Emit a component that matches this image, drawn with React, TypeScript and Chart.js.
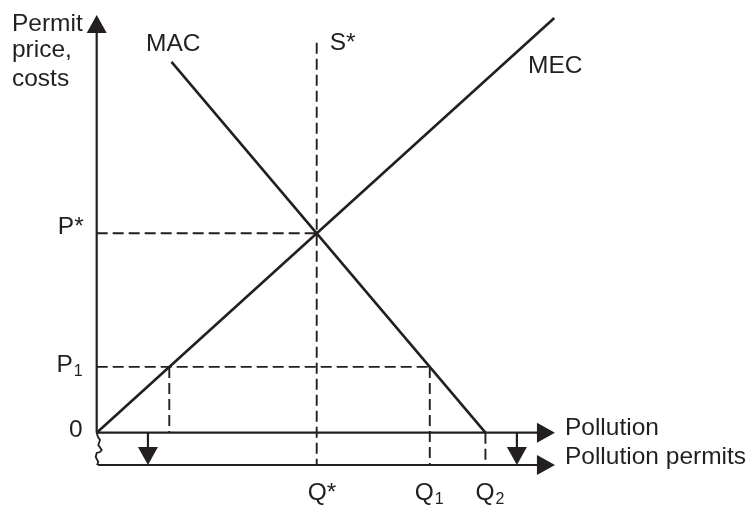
import React, { useEffect, useRef } from "react";
import { Chart, registerables } from "chart.js";

Chart.register(...registerables);

// ---- Values (economic units: Q* = 100, P* = 100) ----
const Q_STAR = 100;
const Q_1 = 151.4;
const Q_2 = 176.7;
const Q_P1_MEC = 33;
const P_STAR = 100;
const P_1 = 33;
const PERMIT_AXIS = -16.2;
const AXIS_END_X = 208.3;
const AXIS_END_Y = 209.5;
const S_STAR_TOP = 195.5;

const MEC_X = [0, 208];
const MEC_Y = [0, 208];
const MAC_X = [34, 176.7];
const MAC_Y = [186, 0];

const DOWN_ARROWS_X = [23.3, 191];

const BREAK_X = [0, 0.59, 1.5, 0.73, 2.27, 1.5, 0, -0.45, 0.73, 0.14];
const BREAK_Y = [0, -2.16, -3.66, -6.17, -8.68, -9.68, -10.18, -12.19, -14.7, -16.2];

const Y_TITLE = ["Permit", "price,", "costs"];
const X_TITLES = ["Pollution", "Pollution permits"];
const CURVE_NAMES = ["MAC", "MEC", "S*"];
const PRICE_TICKS = [
  { main: "P*", sub: "" },
  { main: "P", sub: "1" },
];
const QTY_TICKS = [
  { main: "Q*", sub: "" },
  { main: "Q", sub: "1" },
  { main: "Q", sub: "2" },
];

const INK = "#231f20";
const FONT = "'Liberation Sans', Arial, sans-serif";
const FS = 24.5;
const SUB_FS = 16;

type Pt = { x: number; y: number };
const pts = (xs: number[], ys: number[]): Pt[] => xs.map((x, i) => ({ x, y: ys[i] }));

const lineDs = (data: Pt[], width: number, dashed: boolean) => ({
  data,
  showLine: true,
  borderColor: INK,
  backgroundColor: INK,
  borderWidth: width,
  borderDash: dashed ? [11, 5] : [],
  pointRadius: 0,
  pointHoverRadius: 0,
  fill: false,
  tension: 0,
  clip: false as any,
});

const overlay = {
  id: "overlay",
  afterDatasetsDraw(chart: any) {
    const ctx: CanvasRenderingContext2D = chart.ctx;
    const sx = chart.scales.x;
    const sy = chart.scales.y;
    const px = (v: number) => sx.getPixelForValue(v);
    const py = (v: number) => sy.getPixelForValue(v);

    ctx.save();
    ctx.fillStyle = INK;

    const tri = (tx: number, ty: number, dir: "up" | "right" | "down") => {
      const L = 18;
      const H = 10;
      ctx.beginPath();
      if (dir === "up") {
        ctx.moveTo(tx, ty);
        ctx.lineTo(tx - H, ty + L);
        ctx.lineTo(tx + H, ty + L);
      } else if (dir === "right") {
        ctx.moveTo(tx, ty);
        ctx.lineTo(tx - L, ty - H);
        ctx.lineTo(tx - L, ty + H);
      } else {
        ctx.moveTo(tx, ty);
        ctx.lineTo(tx - H, ty - L);
        ctx.lineTo(tx + H, ty - L);
      }
      ctx.closePath();
      ctx.fill();
    };

    tri(px(0), py(AXIS_END_Y), "up");
    tri(px(AXIS_END_X), py(0), "right");
    tri(px(AXIS_END_X), py(PERMIT_AXIS), "right");
    DOWN_ARROWS_X.forEach((x) => tri(px(x), py(PERMIT_AXIS), "down"));

    const text = (
      main: string,
      sub: string,
      x: number,
      y: number,
      align: "left" | "right" | "center"
    ) => {
      ctx.textBaseline = "alphabetic";
      ctx.textAlign = "left";
      ctx.font = `${FS}px ${FONT}`;
      const wm = ctx.measureText(main).width;
      ctx.font = `${SUB_FS}px ${FONT}`;
      const ws = sub ? ctx.measureText(sub).width + 1 : 0;
      const total = wm + ws;
      let x0 = x;
      if (align === "right") x0 = x - total;
      else if (align === "center") x0 = x - total / 2;
      ctx.font = `${FS}px ${FONT}`;
      ctx.fillText(main, x0, y);
      if (sub) {
        ctx.font = `${SUB_FS}px ${FONT}`;
        ctx.fillText(sub, x0 + wm + 1, y + 4);
      }
    };

    // y-axis title
    const yt = [16, 42.5, 71.5];
    Y_TITLE.forEach((t, i) => text(t, "", px(0) - 84.7, py(AXIS_END_Y) + yt[i], "left"));

    // x-axis titles
    text(X_TITLES[0], "", px(AXIS_END_X) + 10, py(0) + 2.3, "left");
    text(X_TITLES[1], "", px(AXIS_END_X) + 10, py(PERMIT_AXIS) - 1, "left");

    // curve names
    text(CURVE_NAMES[0], "", px(MAC_X[0]) - 25.5, py(MAC_Y[0]) - 11, "left");
    text(CURVE_NAMES[1], "", px(MEC_X[1]) - 26.3, py(MEC_Y[1]) + 55, "left");
    text(CURVE_NAMES[2], "", px(Q_STAR) + 13, py(S_STAR_TOP) + 7.5, "left");

    // price ticks
    text(PRICE_TICKS[0].main, PRICE_TICKS[0].sub, px(0) - 13, py(P_STAR) + 1, "right");
    text(PRICE_TICKS[1].main, PRICE_TICKS[1].sub, px(0) - 14, py(P_1) + 5, "right");
    text("0", "", px(0) - 14, py(0) + 4.5, "right");

    // quantity ticks
    const qBase = py(PERMIT_AXIS) + 35;
    text(QTY_TICKS[0].main, QTY_TICKS[0].sub, px(Q_STAR) - 9, qBase, "left");
    text(QTY_TICKS[1].main, QTY_TICKS[1].sub, px(Q_1) - 15, qBase, "left");
    text(QTY_TICKS[2].main, QTY_TICKS[2].sub, px(Q_2) - 10, qBase, "left");

    ctx.restore();
  },
};

export default function App() {
  const ref = useRef<HTMLCanvasElement>(null);

  useEffect(() => {
    const canvas = ref.current;
    if (!canvas) return;
    const datasets: any[] = [
      // axes
      lineDs(pts([0, 0], [0, AXIS_END_Y - 4]), 2.2, false),
      lineDs(pts([0, AXIS_END_X - 4], [0, 0]), 2.2, false),
      lineDs(pts([0.6, AXIS_END_X - 4], [PERMIT_AXIS, PERMIT_AXIS]), 2.2, false),
      // axis break
      lineDs(pts(BREAK_X, BREAK_Y), 1.8, false),
      // down arrow stems
      ...DOWN_ARROWS_X.map((x) => lineDs(pts([x, x], [0, PERMIT_AXIS + 3]), 2.2, false)),
      // curves
      lineDs(pts(MEC_X, MEC_Y), 2.6, false),
      lineDs(pts(MAC_X, MAC_Y), 2.6, false),
      // dashed guides
      lineDs(pts([Q_STAR, Q_STAR], [S_STAR_TOP, PERMIT_AXIS]), 1.9, true),
      lineDs(pts([0, Q_STAR], [P_STAR, P_STAR]), 1.9, true),
      lineDs(pts([0, Q_1], [P_1, P_1]), 1.9, true),
      lineDs(pts([Q_P1_MEC, Q_P1_MEC], [P_1, 0]), 1.9, true),
      lineDs(pts([Q_1, Q_1], [P_1, PERMIT_AXIS]), 1.9, true),
      lineDs(pts([Q_2, Q_2], [0, PERMIT_AXIS]), 1.9, true),
    ];

    const chart = new Chart(canvas, {
      type: "scatter",
      data: { datasets },
      options: {
        responsive: false,
        maintainAspectRatio: false,
        animation: false,
        devicePixelRatio: 1,
        events: [],
        layout: { padding: 0 },
        plugins: { legend: { display: false }, tooltip: { enabled: false } },
        scales: {
          x: { type: "linear", display: false, min: -43.95, max: 297.86 },
          y: { type: "linear", display: false, min: -36.76, max: 217.0 },
        },
      },
      plugins: [overlay],
    });
    return () => chart.destroy();
  }, []);

  return (
    <div style={{ position: "fixed", left: 0, top: 0, width: 752, height: 506, background: "#fff" }}>
      <canvas ref={ref} width={752} height={506} style={{ display: "block", width: 752, height: 506 }} />
    </div>
  );
}
